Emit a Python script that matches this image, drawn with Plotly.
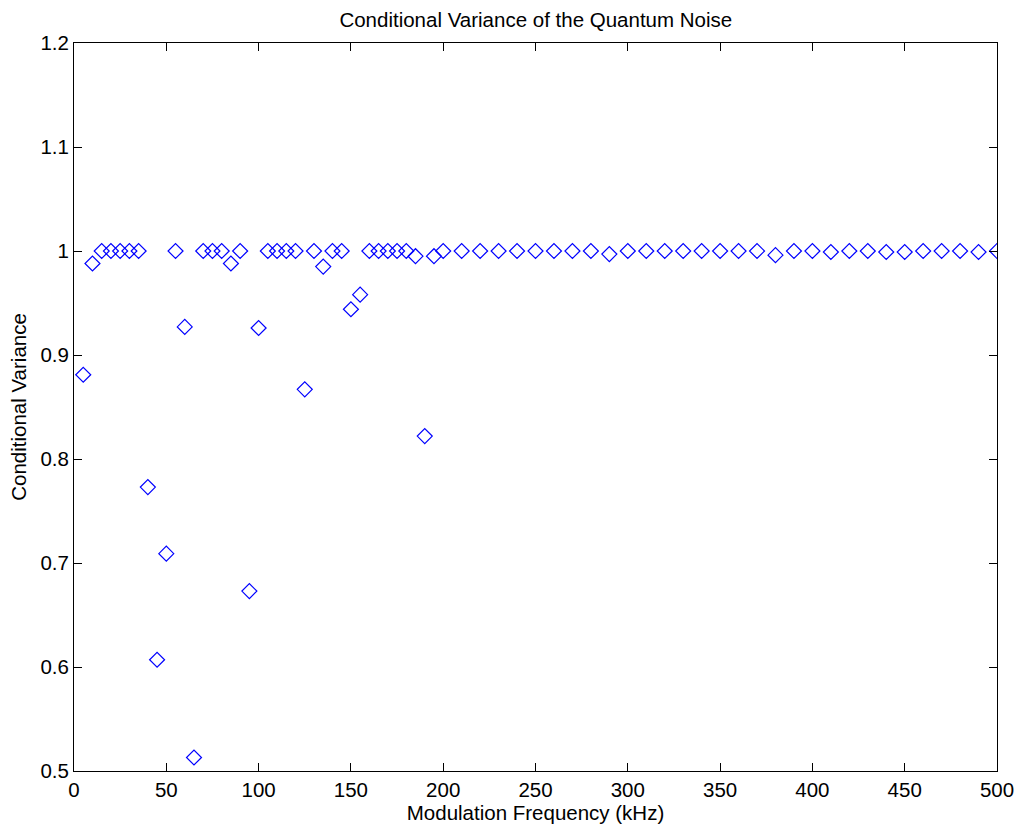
import plotly.graph_objects as go

freq_khz = [5, 10, 15, 20, 25, 30, 35, 40, 45, 50, 55, 60, 65, 70, 75, 80, 85, 90, 95, 100,
            105, 110, 115, 120, 125, 130, 135, 140, 145, 150, 155, 160, 165, 170, 175, 180,
            185, 190, 195, 200, 210, 220, 230, 240, 250, 260, 270, 280, 290, 300, 310, 320,
            330, 340, 350, 360, 370, 380, 390, 400, 410, 420, 430, 440, 450, 460, 470, 480,
            490, 500]
cond_var = [0.881, 0.988, 1.0, 1.0, 1.0, 1.0, 1.0, 0.773, 0.607, 0.709, 1.0, 0.927, 0.513,
            1.0, 1.0, 1.0, 0.988, 1.0, 0.673, 0.926, 1.0, 1.0, 1.0, 1.0, 0.867, 1.0, 0.985,
            1.0, 1.0, 0.944, 0.958, 1.0, 1.0, 1.0, 1.0, 1.0, 0.995, 0.822, 0.995, 1.0,
            1.0, 1.0, 1.0, 1.0, 1.0, 1.0, 1.0, 1.0, 0.997, 1.0, 1.0, 1.0, 1.0, 1.0, 1.0,
            1.0, 1.0, 0.996, 1.0, 1.0, 0.999, 1.0, 1.0, 0.999, 0.999, 1.0, 1.0, 1.0, 0.999, 1.0]

x_ticks = [0, 50, 100, 150, 200, 250, 300, 350, 400, 450, 500]
y_ticks = [0.5, 0.6, 0.7, 0.8, 0.9, 1.0, 1.1, 1.2]
y_tick_labels = ["0.5", "0.6", "0.7", "0.8", "0.9", "1", "1.1", "1.2"]

font_family = "Liberation Sans, Arial, Helvetica, sans-serif"
fs = 20.5

fig = go.Figure(go.Scatter(
    x=freq_khz, y=cond_var, mode="markers",
    marker=dict(symbol="diamond-open", size=11.5, color="#0000ff",
                line=dict(width=1.2, color="#0000ff")),
    showlegend=False,
))

axis_common = dict(showgrid=False, zeroline=False, showline=True, linecolor="black",
                   linewidth=1, mirror="ticks", ticks="inside", ticklen=8, tickwidth=1,
                   automargin=False,
                   tickcolor="black", tickfont=dict(size=fs, color="black", family=font_family))

fig.update_layout(
    width=1019, height=828,
    margin=dict(l=74, r=22, t=43, b=57),
    paper_bgcolor="white", plot_bgcolor="white",
    font=dict(family=font_family, color="black", size=fs),
    title=dict(text="Conditional Variance of the Quantum Noise", x=0.5258, xanchor="center",
               y=0.976, yanchor="middle", font=dict(size=fs, color="black"),
               automargin=False),
    xaxis=dict(range=[0, 500], tickvals=x_ticks,
               title=dict(text="Modulation Frequency (kHz)", standoff=2,
                          font=dict(size=fs, color="black")),
               **axis_common),
    yaxis=dict(range=[0.5, 1.2], tickvals=y_ticks, ticktext=y_tick_labels,
               title=dict(text="Conditional Variance", standoff=8,
                          font=dict(size=fs, color="black")),
               **axis_common),
)

fig.write_html("out.html")
